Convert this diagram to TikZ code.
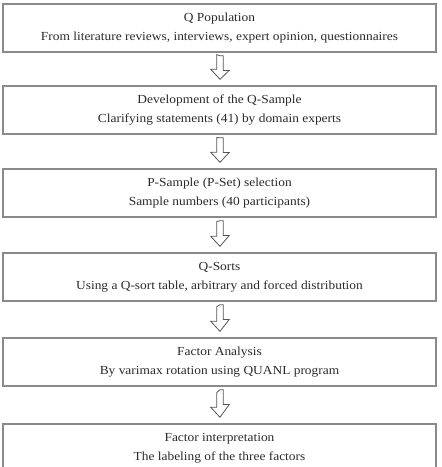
\documentclass[tikz,border=0pt]{standalone}
\usepackage{fontspec}
\setmainfont{Liberation Serif}[FakeStretch=1.09]
\usetikzlibrary{calc}
\definecolor{boxline}{HTML}{8A8A8A}
\definecolor{arrline}{HTML}{555555}
\definecolor{txt}{HTML}{2A2A2A}
\tikzset{
  stepbox/.style={draw=boxline, line width=1.4pt, minimum width=433pt, minimum height=48pt,
    inner sep=0pt, align=center, text=txt, font=\fontsize{12.3}{19.5}\selectfont},
  hollow/.style={draw=arrline, line width=0.8pt, fill=white, line join=miter}
}
\newcommand{\hollowarrow}[2]{%
  \draw[hollow] ($(#1.south)+(0.5,3)$) coordinate (t)
    -- ++(3.3,0) -- ++(0,14.7) -- ++(6,0) -- ($(#2.north)+(0.5,-6)$)
    -- ++(-9.3,-10) -- ++(6,0) -- ++(0,-14.7) -- cycle;}
\begin{document}
\begin{tikzpicture}[x=1pt,y=-1pt]
\useasboundingbox (0,0) rectangle (442,467);
\node[stepbox] (n1) at (219.5,28) {Q Population\\From literature reviews, interviews, expert opinion, questionnaires};
\node[stepbox] (n2) at (219.5,110) {Development of the Q-Sample\\Clarifying statements (41) by domain experts};
\node[stepbox] (n3) at (219.5,193) {P-Sample (P-Set) selection\\Sample numbers (40 participants)};
\node[stepbox] (n4) at (219.5,277) {Q-Sorts\\Using a Q-sort table, arbitrary and forced distribution};
\node[stepbox] (n5) at (219.5,362) {Factor Analysis\\By varimax rotation using QUANL program};
\node[stepbox] (n6) at (219.5,448) {Factor interpretation\\The labeling of the three factors};
\hollowarrow{n1}{n2}
\hollowarrow{n2}{n3}
\hollowarrow{n3}{n4}
\hollowarrow{n4}{n5}
\hollowarrow{n5}{n6}
\end{tikzpicture}
\end{document}
